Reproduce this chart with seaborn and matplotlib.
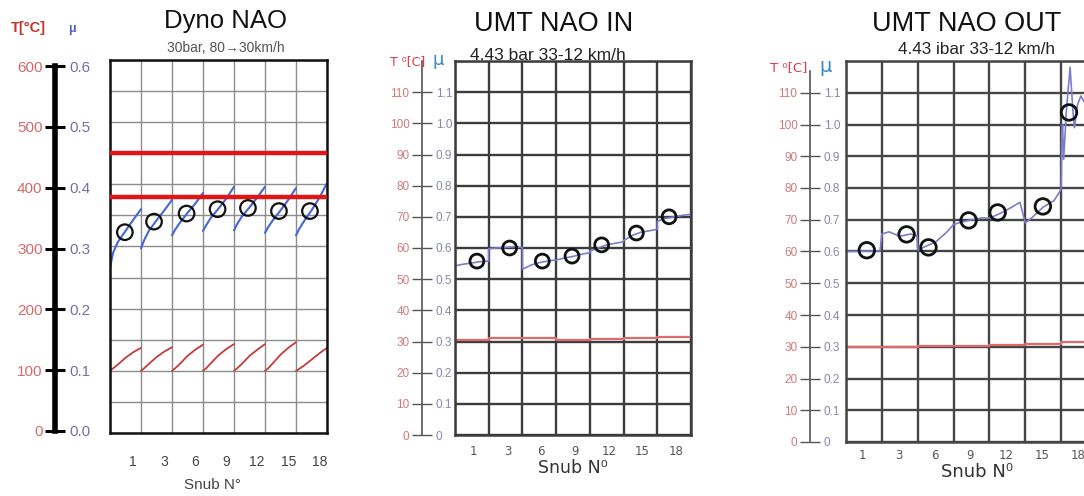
import numpy as np
import pandas as pd
import matplotlib
matplotlib.use("Agg")
import matplotlib.pyplot as plt
import seaborn as sns

# ---------------- data ----------------
snub_labels = ["1", "3", "6", "9", "12", "15", "18"]
trace_steps = [0.0, 0.1, 0.25, 0.5, 0.75, 1.0]

# Dyno NAO: friction trace per snub, temperature trace per snub (degC)
dyno_mu_trace = [
    [0.266, 0.290, 0.307, 0.325, 0.343, 0.360],
    [0.297, 0.310, 0.325, 0.342, 0.358, 0.375],
    [0.318, 0.327, 0.338, 0.354, 0.369, 0.386],
    [0.325, 0.334, 0.346, 0.361, 0.377, 0.396],
    [0.326, 0.336, 0.348, 0.363, 0.379, 0.396],
    [0.322, 0.331, 0.342, 0.358, 0.375, 0.394],
    [0.318, 0.328, 0.340, 0.358, 0.378, 0.402],
]
dyno_temp_trace = [
    [100, 104, 110, 121, 130, 137],
    [100, 104, 111, 122, 131, 138],
    [100, 104, 111, 124, 134, 142],
    [100, 104, 112, 125, 135, 143],
    [100, 104, 111, 124, 134, 143],
    [100, 104, 112, 126, 137, 146],
    [100, 103, 108, 118, 128, 137],
]
dyno_mu_snub = [0.323, 0.340, 0.353, 0.360, 0.362, 0.357, 0.357]
dyno_snub_at = [0.48, 0.42, 0.47, 0.47, 0.45, 0.45, 0.45]
dyno_temp_limits = [450, 380]

# UMT NAO IN
umt_in_mu_trace = [
    [0.543, 0.545, 0.548, 0.552, 0.556, 0.558],
    [0.598, 0.599, 0.600, 0.602, 0.604, 0.602],
    [0.532, 0.537, 0.545, 0.553, 0.558, 0.562],
    [0.562, 0.564, 0.568, 0.573, 0.580, 0.585],
    [0.590, 0.594, 0.600, 0.610, 0.615, 0.620],
    [0.625, 0.630, 0.640, 0.650, 0.655, 0.660],
    [0.685, 0.690, 0.695, 0.700, 0.705, 0.708],
]
umt_in_temp = [30.6, 31.0, 31.2, 30.6, 30.8, 31.0, 31.5]
umt_in_mu_snub = [0.558, 0.600, 0.558, 0.574, 0.610, 0.648, 0.700]
umt_in_snub_at = [0.65, 0.62, 0.59, 0.47, 0.35, 0.38, 0.35]

# UMT NAO OUT
umt_out_trace_x = [0.0, 0.4, 0.95, 1.0, 1.2, 1.5, 1.8, 1.98, 2.0, 2.2, 2.5, 2.8,
                   3.0, 3.2, 3.5, 3.8, 4.0, 4.3, 4.6, 4.85, 5.0, 5.2, 5.5, 5.8,
                   5.97, 6.0, 6.02, 6.04, 6.07, 6.15, 6.25, 6.33, 6.37, 6.45,
                   6.55, 6.65, 6.8, 7.0]
umt_out_trace_mu = [0.600, 0.601, 0.602, 0.655, 0.662, 0.648, 0.655, 0.650,
                    0.605, 0.615, 0.630, 0.660, 0.685, 0.692, 0.700, 0.706,
                    0.705, 0.720, 0.738, 0.755, 0.690, 0.708, 0.740, 0.760,
                    0.790, 0.800, 0.970, 1.000, 0.890, 1.050, 1.180, 1.040,
                    0.990, 1.060, 1.090, 1.070, 1.080, 1.060]
umt_out_temp = [29.8, 29.9, 30.1, 30.2, 30.5, 30.8, 31.6]
umt_out_mu_snub = [0.604, 0.654, 0.613, 0.698, 0.723, 0.742, 1.038]
umt_out_snub_at = [0.58, 0.69, 0.30, 0.42, 0.23, 0.49, 0.22]

# ---------------- figure ----------------
sns.set_theme(style="white")
plt.rcParams["font.family"] = ["Liberation Sans", "DejaVu Sans"]
plt.rcParams["axes.axisbelow"] = True

W, H = 1084, 496
fig = plt.figure(figsize=(W / 100, H / 100), dpi=100)
fig.patch.set_facecolor("white")


def rect(l, t, r, b):
    return [l / W, 1 - b / H, (r - l) / W, (b - t) / H]


def ftext(x, y, s, **kw):
    kw.setdefault("ha", "center")
    kw.setdefault("va", "center")
    fig.text(x / W, 1 - y / H, s, **kw)


def snub_frame(rows_per_snub, steps, scale=1.0):
    rows = []
    for i, vals in enumerate(rows_per_snub):
        for st, v in zip(steps, vals):
            rows.append({"snub": i, "pos": i + st, "val": v / scale})
    return pd.DataFrame(rows)


def step_frame(values, scale):
    rows = []
    for i, v in enumerate(values):
        rows.append({"pos": i, "val": v / scale})
        rows.append({"pos": i + 1, "val": v / scale})
    return pd.DataFrame(rows)


def grid_axes(box, ylim, ystep, label_offset, grid_color, grid_lw, frame_color,
              frame_lw, tick_size, tick_color, tick_pad, tick_family):
    ax = fig.add_axes(rect(*box))
    ax.set_xlim(0, 7)
    ax.set_ylim(*ylim)
    ax.set_xticks(np.arange(7) + label_offset)
    ax.set_xticklabels(snub_labels, family=tick_family)
    ax.set_xticks(np.arange(0, 8), minor=True)
    ax.set_yticks(np.arange(0, ylim[1] + 1e-9, ystep))
    ax.set_yticklabels([])
    ax.tick_params(axis="both", which="both", length=0)
    ax.tick_params(axis="x", labelsize=tick_size, labelcolor=tick_color, pad=tick_pad)
    ax.grid(which="minor", axis="x", color=grid_color, lw=grid_lw)
    ax.grid(which="major", axis="y", color=grid_color, lw=grid_lw)
    ax.grid(which="major", axis="x", visible=False)
    for sp in ax.spines.values():
        sp.set_color(frame_color)
        sp.set_linewidth(frame_lw)
    return ax


def value_scale(x, top, bottom, ylim, ticks, t_labels, mu_labels, spine_color,
                spine_lw, tick_len, tick_w, t_color, mu_color, size, bounds=None):
    lax = fig.add_axes(rect(x, top, x + 0.01, bottom))
    lax.patch.set_visible(False)
    lax.set_xlim(0, 1)
    lax.set_ylim(*ylim)
    lax.set_xticks([])
    for s in ("top", "right", "bottom"):
        lax.spines[s].set_visible(False)
    lax.spines["left"].set_color(spine_color)
    lax.spines["left"].set_linewidth(spine_lw)
    if bounds is not None:
        lax.spines["left"].set_bounds(*bounds)
    lax.set_yticks(ticks)
    lax.set_yticklabels(t_labels)
    lax.tick_params(axis="y", left=True, direction="out", length=tick_len,
                    width=tick_w, color=spine_color, labelcolor=t_color,
                    labelsize=size, pad=2)
    rax = lax.twinx()
    rax.set_ylim(*ylim)
    for sp in rax.spines.values():
        sp.set_visible(False)
    rax.set_yticks(ticks)
    rax.set_yticklabels(mu_labels)
    rax.tick_params(axis="y", right=True, direction="out", length=tick_len,
                    width=tick_w, color=spine_color, labelcolor=mu_color,
                    labelsize=size, pad=3)
    return lax


# ---------- Dyno NAO ----------
ax1 = grid_axes((110, 60, 327, 433), (0, 0.6), 0.05, 0.75, "#8c8c8c", 1.0,
                "#111111", 1.8, 10, "#444444", 16, ["Liberation Sans", "DejaVu Sans"])
dmu = snub_frame(dyno_mu_trace, trace_steps)
dtemp = snub_frame(dyno_temp_trace, trace_steps, scale=1000)
sns.lineplot(data=dtemp, x="pos", y="val", units="snub", estimator=None,
             color="#c83a3a", lw=1.3, ax=ax1, legend=False)
sns.lineplot(data=dmu, x="pos", y="val", units="snub", estimator=None,
             color="#4466d6", lw=1.5, ax=ax1, legend=False)
for lim in dyno_temp_limits:
    ax1.axhline(lim / 1000, color="#e01515", lw=3.2, zorder=4)
sns.scatterplot(x=np.arange(7) + np.array(dyno_snub_at), y=dyno_mu_snub, ax=ax1,
                s=125, marker="o", facecolor="none", edgecolor="#111111",
                linewidth=1.6, zorder=6, legend=False)
ax1.set_xlabel("")
ax1.set_ylabel("")

value_scale(55, 66, 431, (0, 0.6), np.arange(0, 0.61, 0.1),
            [str(v) for v in range(0, 601, 100)],
            [f"{v:.1f}" for v in np.arange(0, 0.61, 0.1)],
            "#000000", 4.0, 7, 2.2, "#d46a6a", "#7272a6", 11)

ftext(226, 21, "Dyno NAO", fontsize=18.5, color="#111111")
ftext(226, 48, "30bar, 80\u219230km/h", fontsize=10, color="#555555")
ftext(28, 28, "T[°C]", fontsize=10.5, color="#c0392b", weight="bold")
ftext(72, 29, "\u03bc", fontsize=9, color="#5060c0", weight="bold")
ftext(212, 485, "Snub N°", fontsize=11, color="#444444")

# ---------- UMT NAO IN ----------
umt_family = ["DejaVu Sans"]
ax2 = grid_axes((455, 61, 691, 435), (0, 1.2), 0.1, 0.56, "#3c3c3c", 1.7,
                "#3c3c3c", 1.8, 8.5, "#555555", 7, umt_family)
imu = snub_frame(umt_in_mu_trace, trace_steps)
imu = imu.drop(columns="snub")
sns.lineplot(data=step_frame(umt_in_temp, 100), x="pos", y="val", sort=False,
             estimator=None, color="#e06a6a", lw=1.6, ax=ax2, legend=False)
sns.lineplot(data=imu, x="pos", y="val", sort=False, estimator=None,
             color="#7d7dcc", lw=1.2, ax=ax2, legend=False)
sns.scatterplot(x=np.arange(7) + np.array(umt_in_snub_at), y=umt_in_mu_snub, ax=ax2,
                s=100, marker="o", facecolor="none", edgecolor="#111111",
                linewidth=2.0, zorder=6, legend=False)
ax2.set_xlabel("")
ax2.set_ylabel("")

value_scale(422, 61, 435, (0, 1.2), np.arange(0, 1.11, 0.1),
            [str(v) for v in range(0, 111, 10)],
            ["0"] + [f"{v:.1f}" for v in np.arange(0.1, 1.11, 0.1)],
            "#555555", 1.2, 7, 1.0, "#d27a7a", "#8888b0", 8.5)

ftext(554, 24, "UMT NAO IN", fontsize=19.5, color="#111111")
ftext(548, 56, "4.43 bar 33-12 km/h", fontsize=12.5, color="#222222")
ftext(408, 62, "T \u2070[C]", fontsize=9, color="#e03a4a", family=umt_family)
ftext(438, 60, "\u03bc", fontsize=13, color="#3a88c8", family=umt_family)
ftext(573, 468, "Snub N\u2070", fontsize=12.5, color="#333333", family=umt_family)

# ---------- UMT NAO OUT ----------
ax3 = grid_axes((846, 61, 1097, 442), (0, 1.2), 0.1, 0.47, "#454545", 1.7,
                "#454545", 1.8, 8.5, "#555555", 5, umt_family)
omu = pd.DataFrame({"pos": umt_out_trace_x, "val": umt_out_trace_mu})
sns.lineplot(data=step_frame(umt_out_temp, 100), x="pos", y="val", sort=False,
             estimator=None, color="#e06a6a", lw=1.6, ax=ax3, legend=False)
sns.lineplot(data=omu, x="pos", y="val", sort=False, estimator=None,
             color="#7d7dcc", lw=1.2, ax=ax3, legend=False)
sns.scatterplot(x=np.arange(7) + np.array(umt_out_snub_at), y=umt_out_mu_snub, ax=ax3,
                s=125, marker="o", facecolor="none", edgecolor="#111111",
                linewidth=2.0, zorder=6, legend=False)
ax3.set_xlabel("")
ax3.set_ylabel("")

value_scale(810, 61, 442, (0, 1.2), np.arange(0, 1.11, 0.1),
            [str(v) for v in range(0, 111, 10)],
            ["0"] + [f"{v:.1f}" for v in np.arange(0.1, 1.11, 0.1)],
            "#555555", 1.2, 7, 1.0, "#d27a7a", "#8888b0", 8.5, bounds=(0, 1.17))

ftext(967, 24, "UMT NAO OUT", fontsize=19.5, color="#111111")
ftext(976, 49, "4.43 ibar 33-12 km/h", fontsize=12.3, color="#222222")
ftext(789, 68, "T \u2070[C]", fontsize=9.5, color="#e03a4a", family=umt_family)
ftext(826, 67, "\u03bc", fontsize=14, color="#3a88c8", family=umt_family)
ftext(977, 472, "Snub N\u2070", fontsize=13, color="#333333", family=umt_family)

fig.savefig("out.png", dpi=100, facecolor="white")
